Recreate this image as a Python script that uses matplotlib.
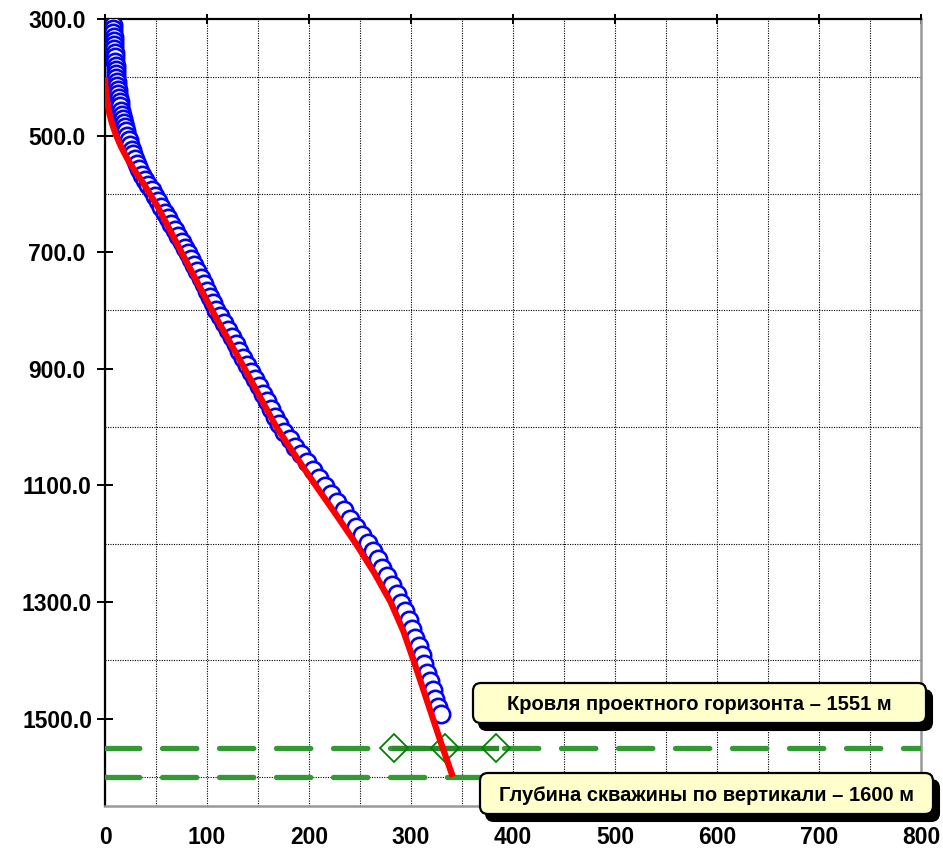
import matplotlib
matplotlib.use("Agg")
import matplotlib.pyplot as plt
from matplotlib.ticker import FixedLocator, MultipleLocator
from matplotlib.patches import FancyBboxPatch
from matplotlib.transforms import IdentityTransform

# Measured inclinometry: vertical depth (m) and horizontal offset (m)
meas_depth = [310, 317, 324, 331, 338, 345, 352, 359, 366, 373, 380, 387, 394, 401,
              408, 415, 422, 429, 436, 443, 450, 457, 464, 471, 478, 485, 492, 500,
              508, 516, 524, 532, 540, 549, 558, 567, 576, 585, 594, 603, 612, 622,
              632, 642, 652, 662, 672, 682, 692, 702, 712, 722, 733, 744, 755, 766,
              777, 788, 799, 810, 822, 834, 846, 858, 870, 882, 894, 906, 918, 930,
              943, 956, 969, 982, 995, 1008, 1021, 1034, 1047, 1060, 1073, 1087, 1101,
              1115, 1129, 1143, 1157, 1171, 1185, 1199, 1213, 1227, 1241, 1256, 1271,
              1286, 1301, 1316, 1331, 1346, 1361, 1376, 1391, 1406, 1421, 1436, 1451,
              1466, 1480, 1493]
meas_offset = [7.5, 7.8, 8.1, 8.4, 8.6, 8.9, 9.1, 9.4, 9.7, 10.0, 10.3, 10.6, 10.8, 11.1,
               11.5, 12.0, 12.5, 13.0, 13.6, 14.3, 15.0, 15.8, 16.6, 17.5, 18.4, 19.4, 20.5, 21.8,
               23.1, 24.5, 26.0, 27.6, 29.3, 31.3, 33.7, 36.4, 39.4, 42.5, 45.6, 48.8, 51.9, 55.2,
               58.5, 61.8, 65.0, 68.2, 71.6, 75.0, 78.4, 81.7, 84.6, 87.5, 90.5, 93.7, 96.8, 99.8,
               102.8, 105.8, 108.8, 112.5, 116.4, 120.3, 124.2, 128.0, 131.8, 135.6, 139.4, 143.2, 147.0, 150.8,
               154.8, 158.9, 163.0, 167.0, 171.0, 175.5, 181.0, 186.7, 192.3, 198.0, 203.6, 209.6, 215.5,
               221.6, 227.8, 234.0, 240.0, 246.0, 252.0, 257.7, 262.5, 267.3, 272.0, 276.8, 281.5,
               286.0, 290.2, 294.0, 297.6, 301.0, 304.3, 307.5, 310.5, 313.2, 315.9, 318.6, 321.3,
               324.0, 326.6, 329.0]

# Planned well path
plan_depth = [400, 410, 425, 440, 460, 480, 500, 520, 540, 560, 580, 600, 620, 650, 700,
              750, 800, 850, 900, 950, 1000, 1050, 1100, 1150, 1200, 1250, 1300, 1350,
              1400, 1450, 1500, 1550, 1600]
plan_offset = [0, 0.3, 1, 2, 4, 7, 11, 16, 22, 29, 37, 44, 51, 60, 75,
               90, 105, 121, 137, 152.5, 168, 187, 206.5, 226.5, 246, 264, 280, 292.5,
               302.5, 312, 321.5, 331, 341]

# Target horizon top and total vertical depth
horizon_top = 1551
total_depth = 1600
target_offsets = [283, 333, 383]
target_depths = [1551, 1551, 1551]

label_horizon = "Кровля проектного горизонта – 1551 м"
label_depth = "Глубина скважины по вертикали – 1600 м"

x_ticks = [0, 100, 200, 300, 400, 500, 600, 700, 800]
y_ticks = [300, 500, 700, 900, 1100, 1300, 1500]
y_grid = [400, 600, 800, 1000, 1200, 1400, 1600]

FONT = ["Liberation Sans Narrow", "Liberation Sans", "DejaVu Sans"]
W, H = 943, 849

fig = plt.figure(figsize=(W / 100, H / 100), dpi=100)
ax = fig.add_axes([105 / W, 1 - 806 / H, 816 / W, 787 / H])

ax.set_xlim(0, 800)
ax.set_ylim(1650, 300)

green = "#339933"
ax.axhline(horizon_top, color=green, lw=3.8, dashes=(6.5, 4.3), dash_capstyle="round", zorder=3)
ax.axhline(total_depth, color=green, lw=3.8, dashes=(6.5, 4.3), dash_capstyle="round", zorder=3)
ax.plot(target_offsets, target_depths, color="#2a8a2a", lw=3.8, marker="D", ms=14,
        mfc="none", mec="#008000", mew=1.3, zorder=4)

ax.plot(meas_offset, meas_depth, ls="none", marker="o", ms=12.5, mfc="white",
        mec="#0000ff", mew=1.9, zorder=5)
ax.plot(plan_offset, plan_depth, color="#ff0000", lw=4.5, solid_capstyle="butt",
        solid_joinstyle="round", zorder=6)

# grid
ax.xaxis.set_major_locator(FixedLocator(x_ticks))
ax.xaxis.set_minor_locator(MultipleLocator(50))
ax.yaxis.set_major_locator(FixedLocator(y_ticks))
ax.yaxis.set_minor_locator(FixedLocator(y_grid))
ax.set_yticklabels([f"{v:.1f}" for v in y_ticks])
ax.set_xticklabels([str(v) for v in x_ticks])
grid_kw = dict(color="black", lw=0.8, ls=(0, (1, 1.2)))
ax.grid(True, which="both", axis="x", **grid_kw)
ax.grid(True, which="minor", axis="y", **grid_kw)
ax.grid(False, which="major", axis="y")
ax.set_axisbelow(True)

ax.tick_params(axis="x", which="major", bottom=False, top=True, labelbottom=True,
               labeltop=False, direction="inout", length=7, width=1.4, pad=11)
ax.tick_params(axis="y", which="major", left=True, direction="inout", length=11,
               width=1.4, pad=29)
ax.tick_params(which="minor", length=0)
for lab in ax.get_xticklabels() + ax.get_yticklabels():
    lab.set_fontfamily(FONT)
    lab.set_fontweight("bold")
    lab.set_fontsize(16.5)
for lab in ax.get_yticklabels():
    lab.set_horizontalalignment("center")

for side in ("top", "left"):
    ax.spines[side].set_color("black")
    ax.spines[side].set_linewidth(1.6)
for side in ("bottom", "right"):
    ax.spines[side].set_color("#999999")
    ax.spines[side].set_linewidth(1.8)


def callout(x0, x1, top, bottom, text):
    ident = IdentityTransform()
    y0 = H - bottom
    h = bottom - top
    shadow = FancyBboxPatch((x0 + 6, y0 - 7), x1 - x0, h,
                            boxstyle="round,pad=0,rounding_size=8",
                            transform=ident, fc="black", ec="black", lw=1.5, zorder=10)
    box = FancyBboxPatch((x0, y0), x1 - x0, h,
                         boxstyle="round,pad=0,rounding_size=8",
                         transform=ident, fc="#ffffcc", ec="black", lw=1.6, zorder=11)
    fig.add_artist(shadow)
    fig.add_artist(box)
    fig.text((x0 + x1) / 2 / W, 1 - (top + bottom) / 2 / H, text, ha="center",
             va="center_baseline", fontsize=14.5, fontweight="bold", family=FONT, zorder=12)


callout(473, 926, 683, 723, label_horizon)
callout(480, 933, 773, 814, label_depth)

fig.savefig("out.png", dpi=100)
